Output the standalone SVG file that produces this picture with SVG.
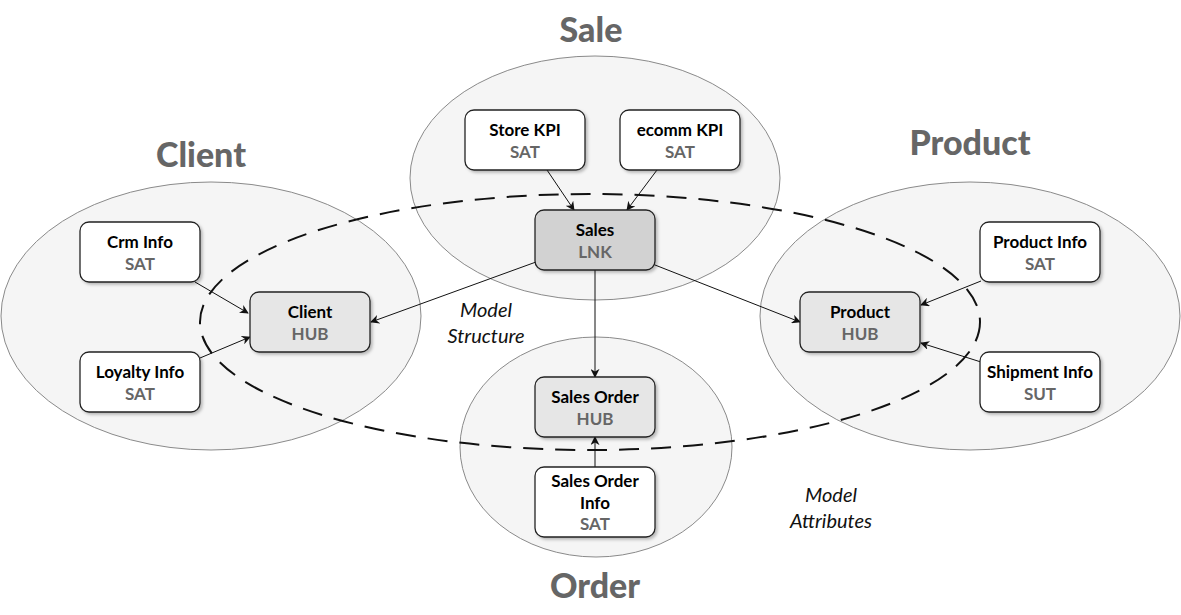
<svg xmlns="http://www.w3.org/2000/svg" width="1181" height="615" viewBox="0 0 1181 615">
<style>
.area{fill:#f5f5f5;stroke:#8a8a8a;stroke-width:1}
.title{font-family:Lato,"Liberation Sans",sans-serif;font-weight:900;font-size:34px;fill:#666;text-anchor:middle}
.box{stroke:#222;stroke-width:1.3;filter:url(#sh)}
.sat{fill:#fff}
.hub{fill:#e6e6e6}
.lnk{fill:#d2d2d2}
.nm{font-family:Lato,"Liberation Sans",sans-serif;font-weight:bold;font-size:17px;fill:#000;text-anchor:middle}
.tp{font-family:Lato,"Liberation Sans",sans-serif;font-weight:bold;font-size:17px;fill:#666;text-anchor:middle}
.lbl{font-family:Lato,"Liberation Sans",sans-serif;font-style:italic;font-size:20px;fill:#111;text-anchor:middle}
.edge{stroke:#111;stroke-width:1;fill:none;marker-end:url(#arr)}
.dash{fill:none;stroke:#111;stroke-width:2;stroke-dasharray:20 12}
</style>
<defs>
<marker id="arr" viewBox="0 0 10 10" refX="9" refY="5" markerWidth="9" markerHeight="9" markerUnits="userSpaceOnUse" orient="auto">
<path d="M0,0 L10,5 L0,10 L3,5 Z" fill="#111"/>
</marker>
<filter id="sh" x="-10%" y="-10%" width="125%" height="130%">
<feDropShadow dx="2" dy="2" stdDeviation="1.5" flood-color="#000" flood-opacity="0.25"/>
</filter>
</defs>
<g id="areas">
<ellipse class="area" cx="211" cy="316" rx="210" ry="134"/>
<ellipse class="area" cx="595" cy="178" rx="185" ry="122"/>
<ellipse class="area" cx="970" cy="316" rx="210" ry="134"/>
<ellipse class="area" cx="596" cy="447" rx="136" ry="110"/>
<text class="title" x="591" y="42">Sale</text>
<text class="title" x="201" y="167">Client</text>
<text class="title" x="970" y="155">Product</text>
<text class="title" x="595" y="598">Order</text>
</g>
<g id="model-structure">
<ellipse class="dash" cx="590" cy="322" rx="390" ry="128"/>
<text class="lbl" x="486" y="317">Model</text>
<text class="lbl" x="486" y="343">Structure</text>
<text class="lbl" x="831" y="502">Model</text>
<text class="lbl" x="831" y="528">Attributes</text>
</g>
<g id="connectors">
<line class="edge" x1="195" y1="282" x2="248" y2="313"/>
<line class="edge" x1="200" y1="358" x2="250" y2="337"/>
<line class="edge" x1="536" y1="262" x2="371" y2="322"/>
<line class="edge" x1="655" y1="265" x2="800" y2="322"/>
<line class="edge" x1="595" y1="270" x2="595" y2="377"/>
<line class="edge" x1="547" y1="170" x2="574" y2="210"/>
<line class="edge" x1="657" y1="170" x2="627" y2="210"/>
<line class="edge" x1="981" y1="281" x2="921" y2="305"/>
<line class="edge" x1="981" y1="362" x2="921" y2="343"/>
<line class="edge" x1="595" y1="467" x2="595" y2="437"/>
</g>
<g id="crm-info"><rect class="box sat" x="80" y="222" width="120" height="60" rx="9"/><text class="nm" x="140" y="248">Crm Info</text><text class="tp" x="140" y="270">SAT</text></g>
<g id="loyalty-info"><rect class="box sat" x="80" y="352" width="120" height="60" rx="9"/><text class="nm" x="140" y="378">Loyalty Info</text><text class="tp" x="140" y="400">SAT</text></g>
<g id="client-hub"><rect class="box hub" x="250" y="292" width="120" height="60" rx="9"/><text class="nm" x="310" y="318">Client</text><text class="tp" x="310" y="340">HUB</text></g>
<g id="store-kpi"><rect class="box sat" x="465" y="110" width="120" height="60" rx="9"/><text class="nm" x="525" y="136">Store KPI</text><text class="tp" x="525" y="158">SAT</text></g>
<g id="ecomm-kpi"><rect class="box sat" x="620" y="110" width="120" height="60" rx="9"/><text class="nm" x="680" y="136">ecomm KPI</text><text class="tp" x="680" y="158">SAT</text></g>
<g id="sales-lnk"><rect class="box lnk" x="535" y="210" width="120" height="60" rx="9"/><text class="nm" x="595" y="236">Sales</text><text class="tp" x="595" y="258">LNK</text></g>
<g id="product-info"><rect class="box sat" x="980" y="222" width="120" height="60" rx="9"/><text class="nm" x="1040" y="248">Product Info</text><text class="tp" x="1040" y="270">SAT</text></g>
<g id="shipment-info"><rect class="box sat" x="980" y="352" width="120" height="60" rx="9"/><text class="nm" x="1040" y="378">Shipment Info</text><text class="tp" x="1040" y="400">SUT</text></g>
<g id="product-hub"><rect class="box hub" x="800" y="292" width="120" height="60" rx="9"/><text class="nm" x="860" y="318">Product</text><text class="tp" x="860" y="340">HUB</text></g>
<g id="sales-order-hub"><rect class="box hub" x="535" y="377" width="120" height="60" rx="9"/><text class="nm" x="595" y="403">Sales Order</text><text class="tp" x="595" y="425">HUB</text></g>
<g id="sales-order-info"><rect class="box sat" x="535" y="467" width="120" height="70" rx="9"/><text class="nm" x="595" y="487">Sales Order</text><text class="tp" x="595" y="509" style="fill:#000">Info</text><text class="tp" x="595" y="530">SAT</text></g>
</svg>
